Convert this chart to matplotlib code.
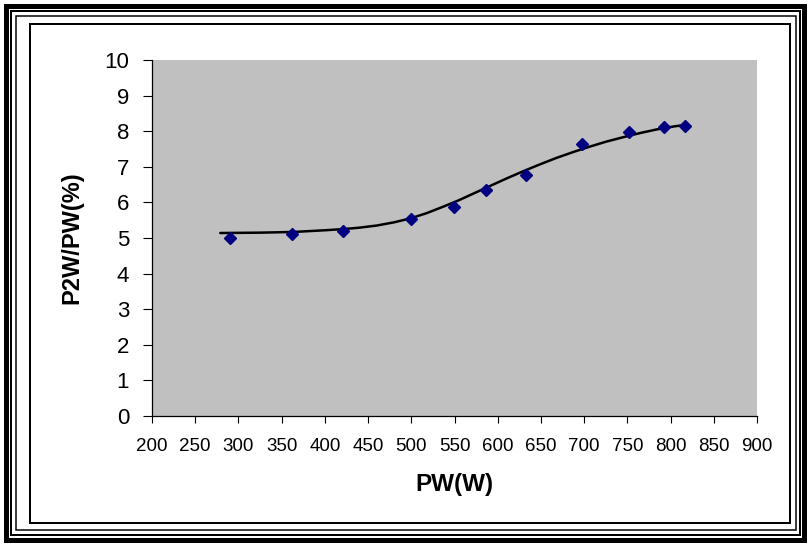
"""P2W/PW ratio versus PW, Excel-style scatter with its smooth trend line."""

import matplotlib
matplotlib.use("Agg")
import matplotlib.pyplot as plt
from matplotlib.patches import Rectangle

plt.rcParams.update({"font.family": ["Liberation Sans", "DejaVu Sans"]})

pw = [290, 362, 421, 500, 549, 586, 633, 697, 752, 792, 817]
ratio = [4.99, 5.10, 5.19, 5.53, 5.88, 6.35, 6.77, 7.65, 7.99, 8.12, 8.15]

# trend line as drawn in the reference, sampled along its length
trend_pw = [279, 325, 364, 402, 421, 440, 460, 480, 499, 518, 537, 555,
            572, 591, 610, 630, 649, 668, 688, 707, 726, 745, 765, 784,
            803, 817]
trend_ratio = [5.14, 5.15, 5.17, 5.22, 5.25, 5.29, 5.35, 5.44, 5.55, 5.70,
               5.88, 6.06, 6.25, 6.46, 6.67, 6.88, 7.07, 7.25, 7.42, 7.57,
               7.71, 7.83, 7.95, 8.05, 8.13, 8.18]

x_ticks = list(range(200, 901, 50))
y_ticks = list(range(0, 11))

W, H = 808, 545
PLOT_GRAY = "#C0C0C0"
MARKER = "#000080"


def main() -> None:
    fig = plt.figure(figsize=(W / 100, H / 100), dpi=100)
    fig.patch.set_facecolor("white")

    # plot area in pixels: x 152..757, y 60..416
    ax = fig.add_axes([152 / W, 1 - 416 / H, (757 - 152) / W, (416 - 60) / H])
    ax.set_facecolor(PLOT_GRAY)

    ax.plot(trend_pw, trend_ratio, color="black", lw=1.8,
            solid_joinstyle="round", solid_capstyle="round", zorder=2)
    ax.plot(pw, ratio, ls="none", marker="D", ms=6.5, color=MARKER,
            mec=MARKER, zorder=3)

    ax.set_xlim(200, 900)
    ax.set_ylim(0, 10)
    ax.set_xticks(x_ticks)
    ax.set_yticks(y_ticks)
    ax.tick_params(axis="x", direction="out", length=5, width=0.8,
                   pad=11, labelsize=13.5)
    ax.tick_params(axis="y", direction="out", length=6.5, width=0.8,
                   pad=10, labelsize=16)
    for s in ("top", "right"):
        ax.spines[s].set_visible(False)
    for s in ("left", "bottom"):
        ax.spines[s].set_linewidth(0.9)
        ax.spines[s].set_color("black")

    fig.text(454.5 / W, 1 - 485 / H, "PW(W)", ha="center", va="center",
             fontsize=17.5, fontweight="bold")
    fig.text(72 / W, 1 - 238 / H, "P2W/PW(%)", ha="center", va="center",
             rotation=90, fontsize=17, fontweight="bold")

    # chart border: inner single line plus outer triple line
    def frame(x0, y0, x1, y1, lw_px):
        fig.patches.append(Rectangle((x0 / W, 1 - y1 / H), (x1 - x0) / W,
                                     (y1 - y0) / H, fill=False, ec="black",
                                     lw=lw_px * 0.72, transform=fig.transFigure,
                                     zorder=10))

    frame(30, 24, 790, 523, 2)
    frame(5.5, 5.5, 804, 540, 5)
    frame(11, 11, 800, 535, 2)
    frame(16, 16, 795.5, 530, 1.5)

    fig.savefig("out.png", dpi=100)


if __name__ == "__main__":
    main()
